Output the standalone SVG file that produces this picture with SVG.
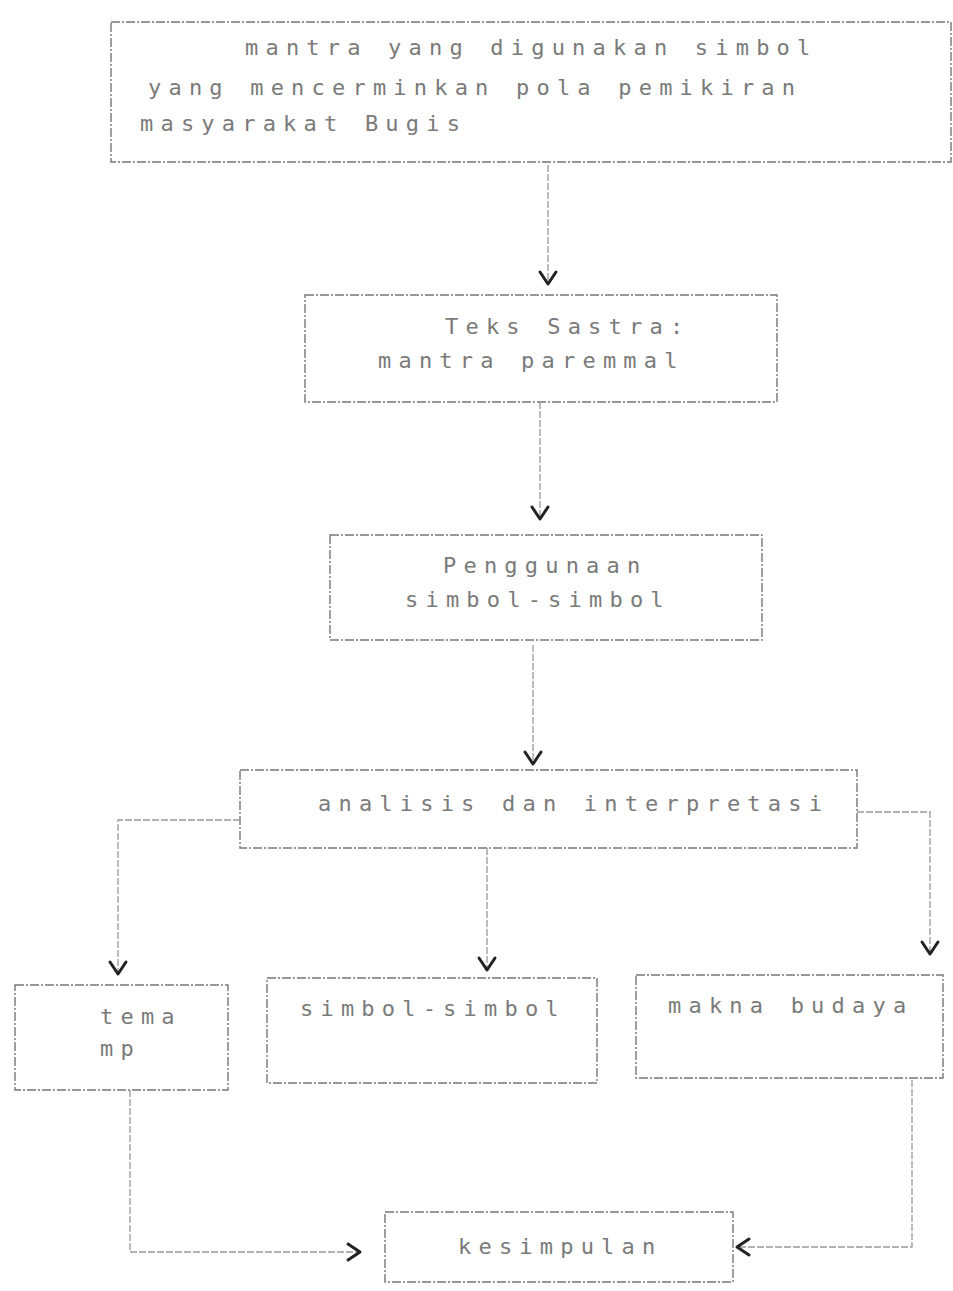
<svg xmlns="http://www.w3.org/2000/svg" width="953" height="1291" viewBox="0 0 953 1291">
<style>
.box{fill:none;stroke:#777;stroke-width:1.4;stroke-dasharray:9 2 2 2}
.t{font-family:"DejaVu Sans Mono","Liberation Mono",monospace;font-size:22px;letter-spacing:7.2px;fill:#7a7a7a}
.c{fill:none;stroke:#999;stroke-width:1.3;stroke-dasharray:7 2}
</style>
<defs>
<marker id="ah" viewBox="-15 -11 18 22" refX="0" refY="0" markerWidth="18" markerHeight="22" markerUnits="userSpaceOnUse" orient="auto">
<path d="M-12,-8 L0,0 L-12,8" fill="none" stroke="#222" stroke-width="3" stroke-linecap="round" stroke-linejoin="round"/>
</marker>
</defs>
<rect width="953" height="1291" fill="#fff"/>
<g id="n1"><rect class="box" x="111" y="22" width="840" height="140"/>
<text class="t" x="245" y="55">mantra yang digunakan simbol</text>
<text class="t" x="148" y="95">yang mencerminkan pola pemikiran</text>
<text class="t" x="140" y="131">masyarakat Bugis</text></g>
<g id="n2"><rect class="box" x="305" y="295" width="472" height="107"/>
<text class="t" x="445" y="334">Teks Sastra:</text>
<text class="t" x="378" y="368">mantra paremmal</text></g>
<g id="n3"><rect class="box" x="330" y="535" width="432" height="105"/>
<text class="t" x="443" y="573">Penggunaan</text>
<text class="t" x="405" y="607">simbol-simbol</text></g>
<g id="n4"><rect class="box" x="240" y="770" width="617" height="78"/>
<text class="t" x="318" y="811">analisis dan interpretasi</text></g>
<g id="n5"><rect class="box" x="15" y="985" width="213" height="105"/>
<text class="t" x="100" y="1024">tema</text>
<text class="t" x="100" y="1056">mp</text></g>
<g id="n6"><rect class="box" x="267" y="978" width="330" height="105"/>
<text class="t" x="300" y="1016">simbol-simbol</text></g>
<g id="n7"><rect class="box" x="636" y="975" width="307" height="103"/>
<text class="t" x="668" y="1013">makna budaya</text></g>
<g id="n8"><rect class="box" x="385" y="1212" width="348" height="70"/>
<text class="t" x="458" y="1254">kesimpulan</text></g>
<g id="connectors">
<path class="c" d="M548,165 V284" marker-end="url(#ah)"/>
<path class="c" d="M540,402 V519" marker-end="url(#ah)"/>
<path class="c" d="M533,645 V764" marker-end="url(#ah)"/>
<path class="c" d="M240,820 H118 V974" marker-end="url(#ah)"/>
<path class="c" d="M487,848 V970" marker-end="url(#ah)"/>
<path class="c" d="M857,812 H930 V954" marker-end="url(#ah)"/>
<path class="c" d="M130,1090 V1252 H360" marker-end="url(#ah)"/>
<path class="c" d="M912,1080 V1247 H737" marker-end="url(#ah)"/>
</g>
</svg>
